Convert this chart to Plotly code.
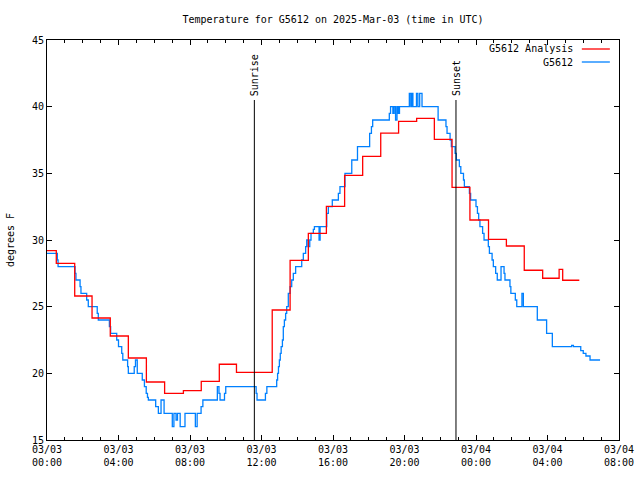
import pandas as pd
import plotly.graph_objects as go

BASE = pd.Timestamp("2025-03-03 00:00")

# G5612 Analysis (hours since 03/03 00:00 UTC, degrees F)
analysis_hours = [0.00, 0.52, 1.55, 2.52, 3.54, 4.55, 5.56, 6.58, 7.63, 8.63, 9.64,
                  10.60, 12.60, 13.60, 14.62, 15.63, 16.65, 17.66, 18.67, 19.67,
                  20.68, 21.67, 22.66, 23.66, 24.70, 25.70, 26.70, 27.73, 28.65,
                  28.85, 29.78]
analysis_temp = [29.2, 28.25, 25.8, 24.15, 22.8, 21.15, 19.35, 18.5, 18.7, 19.4, 20.68,
                 20.07, 24.75, 28.47, 30.5, 32.52, 34.85, 36.27, 38.02, 38.9,
                 39.12, 37.55, 33.95, 31.5, 30.05, 29.55, 27.73, 27.13, 27.8,
                 26.98, 26.98]

# G5612 observations
obs_hours = [0.00, 0.58, 0.62, 1.57, 1.62, 1.85, 1.90, 2.22, 2.31, 2.81, 2.87,
             3.49, 3.56, 3.90, 4.00, 4.18, 4.24, 4.51, 4.55, 4.88, 4.95, 5.05,
             5.33, 5.45, 5.55, 5.62, 5.67, 6.08, 6.23, 6.38, 6.55, 7.01, 7.10,
             7.22, 7.30, 7.45, 7.72, 8.30, 8.40, 8.62, 8.72, 9.53, 9.62, 9.68,
             9.93, 10.00, 11.70, 11.75, 12.22, 12.30, 12.85, 12.90, 12.95, 13.00,
             13.05, 13.10, 13.17, 13.22, 13.28, 13.35, 13.41, 13.50, 13.60, 13.69,
             13.78, 13.91, 13.97, 14.25, 14.34, 14.47, 14.53, 14.62, 14.70, 14.77,
             14.90, 14.96, 15.22, 15.28, 15.65, 15.74, 15.96, 16.30, 16.39, 16.67,
             17.05, 17.37, 18.05, 18.15, 18.22, 19.15, 19.22, 19.35, 19.42, 19.50,
             19.58, 19.65, 19.72, 20.27, 20.35, 20.40, 20.47, 20.67, 20.75, 20.85,
             20.98, 21.88, 22.32, 22.38, 22.55, 22.62, 22.83, 22.90, 23.07, 23.15,
             23.30, 23.35, 23.63, 23.70, 24.00, 24.08, 24.15, 24.22, 24.37, 24.45,
             24.69, 24.75, 24.90, 24.97, 25.10, 25.19, 25.40, 25.57, 25.62, 25.90,
             25.95, 26.20, 26.28, 26.57, 26.65, 27.43, 27.95, 28.27, 29.35, 29.45,
             29.86, 30.00, 30.15, 30.38, 30.94]
obs_temp = [29, 28.5, 28, 27.5, 27, 26.5, 26, 25.5, 25, 24.5, 24,
            23.5, 23, 22.5, 22, 21.5, 21, 20.5, 20, 20.5, 21, 20,
            19.5, 19, 18.5, 18.2, 18, 17.5, 17, 18, 17, 16, 17,
            16.5, 17, 16, 17, 16, 17, 17.5, 18, 19, 18.5, 18,
            18.5, 19, 18.5, 18, 18.5, 19, 19.5, 20, 20.5, 21,
            21.5, 22, 22.5, 23.5, 24, 24.5, 25, 26, 26.5, 27,
            27.5, 28, 28, 28.5, 29, 29.5, 30, 29.5, 30, 30.5,
            30.8, 31, 30, 31, 32, 32.5, 33, 33.5, 34, 35,
            36, 37, 38, 38.5, 39, 39.5, 40, 39.5, 40, 39,
            40, 39.5, 40, 41, 40, 41, 40, 41, 40, 41,
            40, 39, 38.5, 38, 37.5, 37, 36.5, 36, 35.5, 35,
            34.5, 34, 33.5, 33, 32.5, 32, 31.5, 31, 30.5, 30,
            29.5, 29, 28.5, 28, 27.5, 27, 28, 27.5, 27, 26.5,
            26, 25.5, 25, 26, 25, 24, 23, 22, 22.1, 22,
            21.7, 21.5, 21.3, 21, 21]

sunrise_hour = 11.60
sunset_hour = 22.88
x_start = "2025-03-03 00:00"
x_end = "2025-03-04 08:00"
y_ticks = [15, 20, 25, 30, 35, 40, 45]

def to_time(hours):
    return [BASE + pd.Timedelta(hours=h) for h in hours]

FONT = "DejaVu Sans Mono"

fig = go.Figure()
fig.add_trace(go.Scatter(x=to_time(obs_hours), y=obs_temp, mode="lines",
                         line=dict(color="#0080ff", width=1.3, shape="hv"),
                         name="G5612", showlegend=False))
fig.add_trace(go.Scatter(x=to_time(analysis_hours), y=analysis_temp, mode="lines",
                         line=dict(color="#ff0000", width=1.3, shape="hv"),
                         name="G5612 Analysis", showlegend=False))

for h, label in [(sunrise_hour, "Sunrise"), (sunset_hour, "Sunset")]:
    t = BASE + pd.Timedelta(hours=h)
    fig.add_shape(type="line", xref="x", yref="paper", x0=t, x1=t, y0=0, y1=0.85,
                  line=dict(color="black", width=1))
    fig.add_annotation(x=t, y=0.855, xref="x", yref="paper", text=label,
                       textangle=-90, showarrow=False, xanchor="center",
                       yanchor="bottom", font=dict(family=FONT, size=10, color="black"))

# gnuplot-style key: text then line sample
legend_items = [("G5612 Analysis", "#ff0000", 0.9775), ("G5612", "#0080ff", 0.945)]
for text, color, yy in legend_items:
    fig.add_annotation(x=0.923, y=yy, xref="paper", yref="paper", text=text,
                       showarrow=False, xanchor="right", yanchor="middle",
                       font=dict(family=FONT, size=10, color="black"))
    fig.add_shape(type="line", xref="paper", yref="paper", x0=0.935, x1=0.984,
                  y0=yy, y1=yy, line=dict(color=color, width=1.3))

fig.update_layout(
    width=640, height=480,
    margin=dict(l=47, r=21, t=40, b=40),
    paper_bgcolor="white", plot_bgcolor="white",
    font=dict(family=FONT, size=10, color="black"),
    title=dict(text="Temperature for G5612 on 2025-Mar-03 (time in UTC)",
               x=0.5, xref="paper", xanchor="center", y=0.96, yref="container",
               yanchor="middle", font=dict(family=FONT, size=10, color="black")),
    xaxis=dict(type="date", range=[x_start, x_end], tickmode="linear",
               tick0=x_start, dtick=4 * 3600 * 1000, tickformat="%m/%d<br>%H:%M",
               ticks="inside", ticklen=5, tickcolor="black", showline=True,
               linecolor="black", linewidth=1, mirror="allticks", showgrid=False,
               zeroline=False, automargin=False,
               minor=dict(ticks="inside", ticklen=3, tickcolor="black",
                          dtick=3600 * 1000, tick0=x_start, showgrid=False)),
    yaxis=dict(range=[15, 45], tickmode="array", tickvals=y_ticks,
               ticks="inside", ticklen=5, tickcolor="black", showline=True,
               linecolor="black", linewidth=1, mirror="allticks", showgrid=False,
               zeroline=False, automargin=False,
               title=dict(text="degrees F", standoff=15,
                          font=dict(family=FONT, size=10, color="black"))),
)

fig.write_html("out.html", config={"displayModeBar": False},
               post_script="document.body.style.margin='0px';document.body.style.padding='0px';")
